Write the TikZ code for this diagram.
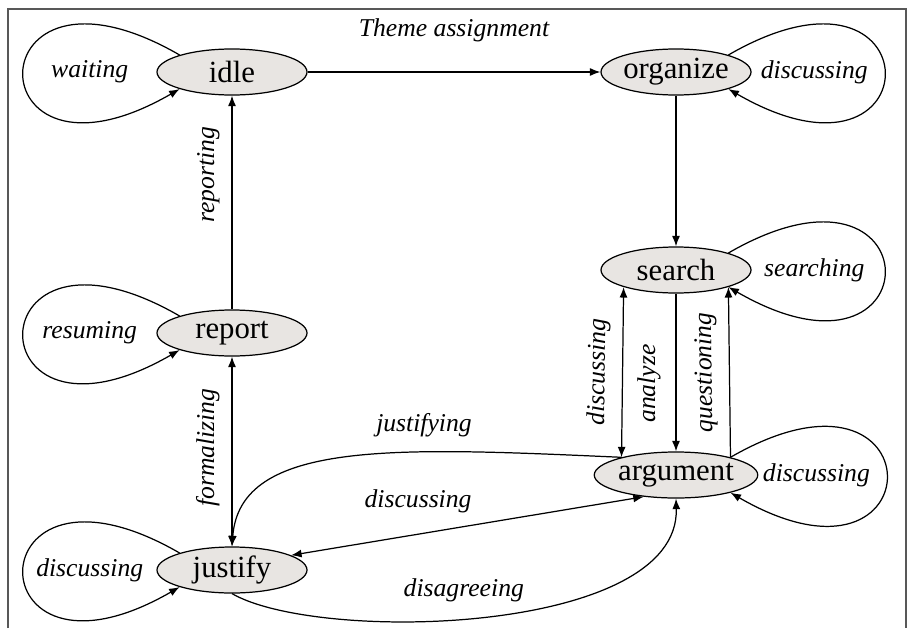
\documentclass[tikz,border=0pt]{standalone}
\usepackage{fontspec}
\setmainfont{Liberation Serif}
\usepackage{tikz}
\usetikzlibrary{shapes.geometric, arrows.meta}
\definecolor{phasefill}{RGB}{232,229,226}
\definecolor{framegray}{RGB}{88,88,88}

\begin{document}
\begin{tikzpicture}[x=0.2mm, y=0.2mm, line width=0.7pt, >={Latex[length=2.1mm, width=1.6mm]},
    phase/.style={ellipse, draw, fill=phasefill, minimum width=30mm, minimum height=9.2mm,
                  inner sep=0pt, font=\fontsize{17.5}{20}\selectfont},
    lbl/.style={font=\fontsize{14.6}{17}\selectfont\itshape, inner sep=1pt},
    uplbl/.style={lbl, sloped, allow upside down, above=2mm}]
    \useasboundingbox (0,0) rectangle (912,628);

    % 1. Frame (open at the bottom)
    \draw[framegray, line width=1.1pt] (8,0) -- (8,619) -- (906,619) -- (906,0);

    % 2. The phases
    \node[phase] (idle)     at (232,556) {idle};
    \node[phase] (organize) at (676,556) {organize};
    \node[phase] (search)   at (676,358) {search};
    \node[phase] (report)   at (232,295) {report};
    \node[phase] (argument) at (676,153) {argument};
    \node[phase] (justify)  at (232,58)  {justify};

    % 3. Self loops - left side
    \draw[->] (idle.162) .. controls +(150:240) and +(210:240) ..
        node[lbl, xshift=13.2mm] {waiting} (idle.198);
    \draw[->] (report.162) .. controls +(150:240) and +(210:240) ..
        node[lbl, xshift=13.2mm] {resuming} (report.198);
    \draw[->] (justify.162) .. controls +(150:240) and +(210:240) ..
        node[lbl, xshift=13.2mm] {discussing} (justify.198);
    % Self loops - right side
    \draw[->] (organize.18) .. controls +(30:240) and +(-30:240) ..
        node[lbl, xshift=-14mm] {discussing} (organize.342);
    \draw[->] (search.18) .. controls +(30:240) and +(-30:240) ..
        node[lbl, xshift=-14mm] {searching} (search.342);
    \draw[->] (argument.18) .. controls +(30:240) and +(-30:240) ..
        node[lbl, xshift=-14mm] {discussing} (argument.342);

    % 4. Straight transitions
    \draw[->] (idle) -- node[lbl, above=5.5mm] {Theme assignment} (organize);
    \draw[->] (organize) -- (search);
    \draw[->] (report) -- node[uplbl, pos=0.63] {reporting} (idle);
    \draw[<->] (justify) -- node[uplbl, pos=0.52] {formalizing} (report);

    % search <-> argument column
    \draw[<->] (argument.162) -- node[uplbl, pos=0.5] {discussing} (search.198);
    \draw[<-] (argument) -- node[uplbl, pos=0.43, above=0.6mm] {analyze} (search);
    \draw[->] (argument.18) -- node[uplbl, pos=0.5] {questioning} (search.342);

    % 5. Transitions between justify and argument
    \draw[->] (argument.162) .. controls +(-225,10) and +(8,107) ..
        node[lbl, pos=0.33, above=2.5mm] {justifying} (justify.north);
    \draw[<->] (justify.14) -- node[lbl, pos=0.36, above=3.8mm] {discussing} (argument.214);
    \draw[->] (justify.south) .. controls +(87,-50) and +(4,-136) ..
        node[lbl, pos=0.46, above=2.9mm] {disagreeing} (argument.south);

\end{tikzpicture}
\end{document}
